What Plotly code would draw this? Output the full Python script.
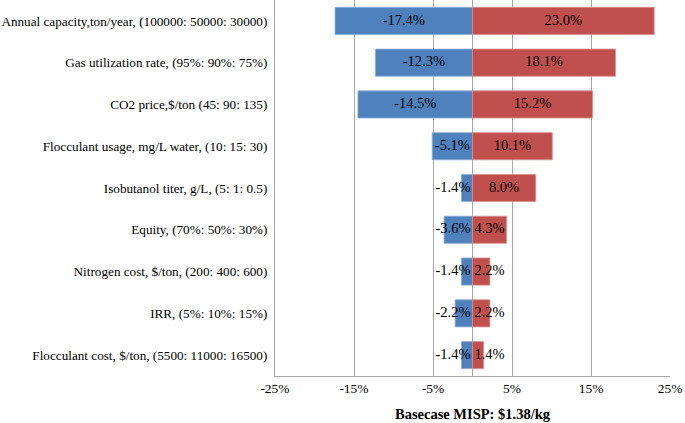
import plotly.graph_objects as go

# parameters, top to bottom as drawn
params = [
    "Annual capacity,ton/year, (100000: 50000: 30000)",
    "Gas utilization rate, (95%: 90%: 75%)",
    "CO2 price,$/ton (45: 90: 135)",
    "Flocculant usage, mg/L water, (10: 15: 30)",
    "Isobutanol titer, g/L, (5: 1: 0.5)",
    "Equity, (70%: 50%: 30%)",
    "Nitrogen cost, $/ton, (200: 400: 600)",
    "IRR, (5%: 10%: 15%)",
    "Flocculant cost, $/ton, (5500: 11000: 16500)",
]
low_change = [-17.4, -12.3, -14.5, -5.1, -1.4, -3.6, -1.4, -2.2, -1.4]
high_change = [23.0, 18.1, 15.2, 10.1, 8.0, 4.3, 2.2, 2.2, 1.4]

tick_vals = [-25, -15, -5, 5, 15, 25]
tick_text = ["-25%", "-15%", "-5%", "5%", "15%", "25%"]

BLUE = "#4F81BD"
RED = "#C0504D"
FONT = "Liberation Serif, Times New Roman, serif"
LABEL_SIZE = 14.5
PX_PER_UNIT = 395 / 50  # plot width / x span

# rough Times glyph widths (em) to keep small-bar labels from colliding
_GLYPH = {"-": 0.333, ".": 0.25, "%": 0.833}


def _label_x(v: float, text: str) -> float:
    half_px = sum(_GLYPH.get(c, 0.5) for c in text) * LABEL_SIZE / 2 + 2
    half = half_px / PX_PER_UNIT
    return v / 2 if abs(v) / 2 >= half else (half if v > 0 else -half)


fig = go.Figure()
fig.add_trace(go.Bar(
    y=params, x=low_change, orientation="h",
    marker=dict(color=BLUE, line=dict(color="#8FB0DA", width=0.8)),
    width=0.65, showlegend=False, hoverinfo="x",
))
fig.add_trace(go.Bar(
    y=params, x=high_change, orientation="h",
    marker=dict(color=RED, line=dict(color="#DA8F8D", width=0.8)),
    width=0.65, showlegend=False, hoverinfo="x",
))
# data labels, centred on the bar unless the bar is too short
for vals in (low_change, high_change):
    texts = [f"{v:.1f}%" for v in vals]
    fig.add_trace(go.Scatter(
        y=params, x=[_label_x(v, t) for v, t in zip(vals, texts)], mode="text",
        text=texts,
        textfont=dict(family=FONT, size=LABEL_SIZE, color="black"),
        showlegend=False, hoverinfo="skip",
    ))

fig.update_layout(
    width=685, height=423,
    margin=dict(l=275, r=15, t=0, b=47),
    barmode="overlay",
    plot_bgcolor="white", paper_bgcolor="white",
    font=dict(family=FONT, size=13, color="black"),
)
fig.update_xaxes(
    range=[-25, 25], tickvals=tick_vals, ticktext=tick_text,
    showgrid=True, gridcolor="#A6A6A6", gridwidth=1,
    zeroline=True, zerolinecolor="#A6A6A6", zerolinewidth=1,
    showline=True, linecolor="#A6A6A6", linewidth=1,
    tickfont=dict(family=FONT, size=13.5),
    title=dict(text="<b>Basecase MISP: $1.38/kg</b>", font=dict(family=FONT, size=14.5), standoff=13),
    fixedrange=True,
)
fig.update_yaxes(
    autorange="reversed", showgrid=False,
    showline=True, linecolor="#A6A6A6", linewidth=1,
    ticks="", ticklabelstandoff=4,
    tickfont=dict(family=FONT, size=13.2),
    fixedrange=True,
)

# drop the browser's default 8px body margin so the figure sits at the page corner
fig.write_html(
    "out.html",
    config={"displayModeBar": False},
    post_script="document.body.style.margin='0';",
)
